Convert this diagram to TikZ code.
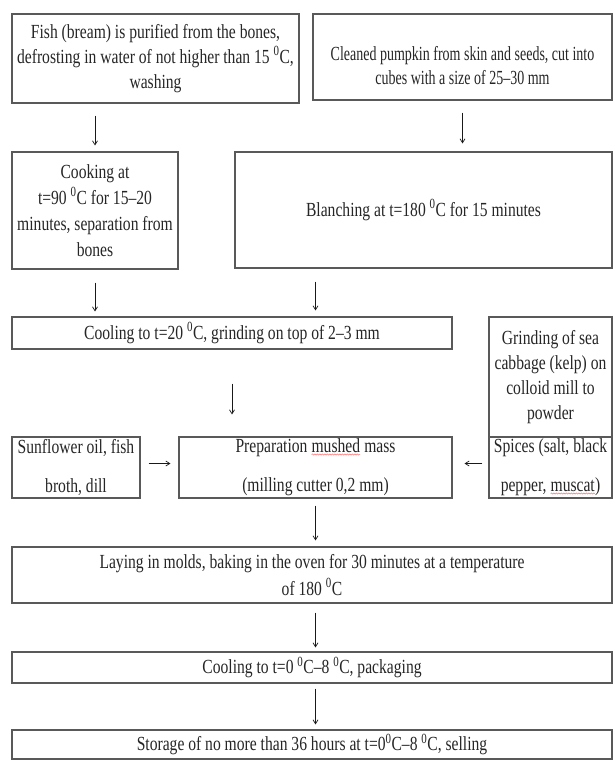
\documentclass[tikz,border=0pt]{standalone}
\usepackage{fontspec}
\setmainfont{Liberation Serif}[FakeStretch=0.78]
\newfontfamily\narrowfont{Liberation Serif}[FakeStretch=0.70,Ligatures=TeX]
\usetikzlibrary{arrows.meta,decorations.pathmorphing}
\newcommand\spellwave[1]{\tikz[baseline=(w.base)]{\node[inner sep=0pt,outer sep=0pt,
    minimum width=0pt,minimum height=0pt,draw=none,fill=none,text=black!85](w){#1};
  \draw[red!55, line width=0.5pt, decorate, decoration={snake,amplitude=0.6pt,segment length=2.5pt}]
  ([yshift=-1.5pt]w.south west) -- ([yshift=-1.5pt]w.south east);}}
\newcommand\dg{\textsuperscript{0}}
\tikzset{
  procbox/.style={draw=black!65, line width=1.1pt, fill=white, align=center,
    inner sep=1pt, text=black!85,
    font=\fontsize{20}{25}\selectfont},
  boxtext/.style={align=center, inner sep=0pt, text=black!85},
  tallrow/.style={font=\fontsize{20}{39}\selectfont},
  arr/.style={draw=black!90, line width=0.7pt, -{Straight Barb[length=4pt,width=5pt]}}
}
\begin{document}
\begin{tikzpicture}[x=1pt,y=-1pt]
\useasboundingbox (0,0) rectangle (614,760);
\fill[white] (0,0) rectangle (614,760);

\node[procbox, minimum width=287pt, minimum height=89pt] (fish) at (155.5,58.5)
  {Fish (bream) is purified from the bones,\\ defrosting in water of not higher than 15 \dg C,\\ washing};
\node[procbox, minimum width=299pt, minimum height=86pt] (pumpkin) at (462.5,57) {};
\node[boxtext, font=\fontsize{20}{24}\narrowfont] (pumpkintext) at ([yshift=-9pt]pumpkin.center)
  {Cleaned pumpkin from skin and seeds, cut into\\ cubes with a size of 25–30 mm};
\node[procbox, minimum width=166pt, minimum height=117pt, font=\fontsize{20}{26}\selectfont] (cook) at (95,210.5)
  {Cooking at\\ t=90 \dg C for 15–20\\ minutes, separation from\\ bones};
\node[procbox, minimum width=377pt, minimum height=116pt] (blanch) at (423.5,210)
  {Blanching at t=180 \dg C for 15 minutes};
\node[procbox, minimum width=440pt, minimum height=32pt] (cool1) at (232,333)
  {Cooling to t=20 \dg C, grinding on top of 2–3 mm};
\node[procbox, minimum width=123pt, minimum height=120pt] (kelp) at (550.5,377)
  {Grinding of sea\\ cabbage (kelp) on\\ colloid mill to\\ powder};
\node[procbox, tallrow, minimum width=128pt, minimum height=61pt] (sun) at (76,467.5)
  {Sunflower oil, fish\\ broth, dill};
\node[procbox, tallrow, minimum width=273pt, minimum height=61pt] (prep) at (315.5,467.5)
  {Preparation \spellwave{mushed} mass\\ (milling cutter 0,2 mm)};
\node[procbox, tallrow, minimum width=123pt, minimum height=61pt] (spices) at (550.5,467.5)
  {Spices (salt, black\\ pepper, \spellwave{muscat})};
\node[procbox, minimum width=600pt, minimum height=56pt, font=\fontsize{20}{27}\selectfont] (lay) at (312,575)
  {Laying in molds, baking in the oven for 30 minutes at a temperature\\ of 180 \dg C};
\node[procbox, minimum width=600pt, minimum height=31pt] (cool2) at (312,667.5)
  {Cooling to t=0 \dg C–8 \dg C, packaging};
\node[procbox, minimum width=600pt, minimum height=29pt] (store) at (312,744.5)
  {Storage of no more than 36 hours at t=0\dg C–8 \dg C, selling};

\draw[arr, shorten <=12pt, shorten >=6pt] (fish.south -| cook.north) -- (cook.north);
\draw[arr, shorten <=12pt, shorten >=8pt] (pumpkin.south) -- (pumpkin.south |- blanch.north);
\draw[arr, shorten <=13pt, shorten >=5pt] (cook.south) -- (cook.south |- cool1.north);
\draw[arr, shorten <=13pt, shorten >=6pt] (blanch.south -| prep.north) -- (cool1.north -| prep.north);
\draw[arr, shorten <=34pt, shorten >=22pt] (cool1.south) -- (cool1.south |- prep.north);
\draw[arr, shorten <=8pt, shorten >=8pt] ([yshift=4pt]sun.east) -- ([yshift=4pt]prep.west);
\draw[arr, shorten <=6pt, shorten >=12pt] ([yshift=4pt]spices.west) -- ([yshift=4pt]prep.east);
\draw[arr, shorten <=7pt, shorten >=6pt] (prep.south) -- (prep.south |- lay.north);
\draw[arr, shorten <=9pt, shorten >=4pt] (lay.south -| prep.south) -- (cool2.north -| prep.south);
\draw[arr, shorten <=5pt, shorten >=5pt] (cool2.south -| prep.south) -- (store.north -| prep.south);
\end{tikzpicture}
\end{document}
